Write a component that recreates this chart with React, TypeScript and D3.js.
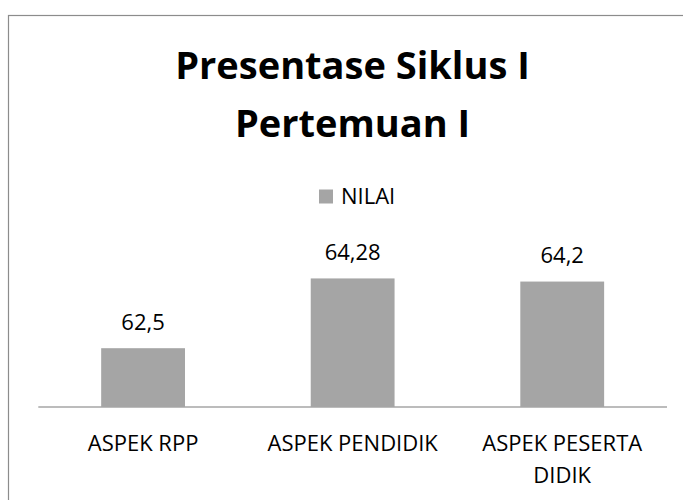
import React, { useEffect, useRef } from "react";
import * as d3 from "d3";

const categories = ["ASPEK RPP", "ASPEK PENDIDIK", "ASPEK PESERTA DIDIK"];
const values = [62.5, 64.28, 64.2];
const valueLabels = ["62,5", "64,28", "64,2"];
const seriesName = "NILAI";
const titleLines = ["Presentase Siklus I", "Pertemuan I"];
const yDomain = [61, 64.5];

const W = 683;
const H = 500;
const FONT = "'Open Sans', 'Noto Sans', sans-serif";

export default function App() {
  const ref = useRef<SVGSVGElement>(null);

  const plotLeft = 38.3;
  const plotRight = 667;
  const plotBottom = 407;
  const x = d3.scaleBand<string>().domain(categories).range([plotLeft, plotRight]).paddingInner(0.6).paddingOuter(0.3);
  const y = d3.scaleLinear().domain(yDomain).range([plotBottom, plotBottom - 3.5 * 39.2]);

  useEffect(() => {
    if (!ref.current) return;
    const svg = d3.select(ref.current);
    const g = svg.select<SVGGElement>("g.xlabels");
    g.selectAll("*").remove();
    const maxW = x.step() * 0.95;
    categories.forEach((c) => {
      const cx = (x(c) as number) + x.bandwidth() / 2;
      const text = g
        .append("text")
        .attr("x", cx)
        .attr("y", 450.5)
        .attr("text-anchor", "middle")
        .attr("font-family", FONT)
        .attr("font-size", 22)
        .attr("fill", "#000");
      const words = c.split(" ");
      let line: string[] = [];
      let lineNo = 0;
      let tspan = text.append("tspan").attr("x", cx).attr("dy", 0);
      words.forEach((w) => {
        line.push(w);
        tspan.text(line.join(" "));
        if ((tspan.node() as SVGTSpanElement).getComputedTextLength() > maxW && line.length > 1) {
          line.pop();
          tspan.text(line.join(" "));
          line = [w];
          lineNo++;
          tspan = text.append("tspan").attr("x", cx).attr("dy", 32).text(w);
        }
      });
    });
  }, []);

  return (
    <svg
      ref={ref}
      width={W}
      height={H}
      style={{ position: "absolute", left: 0, top: 0, background: "#fff" }}
    >
      <rect x={8.5} y={15.5} width={720} height={620} fill="#fff" stroke="#8c8c8c" strokeWidth={1.2} />
      {titleLines.map((t, i) => (
        <text
          key={i}
          x={352.5}
          y={79 + i * 58}
          textAnchor="middle"
          fontFamily={FONT}
          fontWeight="bold"
          fontSize={38}
          fill="#000"
        >
          {t}
        </text>
      ))}
      <rect x={319} y={189.5} width={14} height={14} fill="#a5a5a5" />
      <text x={341} y={204} fontFamily={FONT} fontSize={22} fill="#000">
        {seriesName}
      </text>
      {categories.map((c, i) => (
        <g key={c}>
          <rect
            x={x(c)}
            y={y(values[i])}
            width={x.bandwidth()}
            height={plotBottom - y(values[i])}
            fill="#a5a5a5"
          />
          <text
            x={(x(c) as number) + x.bandwidth() / 2}
            y={y(values[i]) - 18.5}
            textAnchor="middle"
            fontFamily={FONT}
            fontSize={22}
            fill="#000"
          >
            {valueLabels[i]}
          </text>
        </g>
      ))}
      <line x1={plotLeft} x2={plotRight} y1={plotBottom} y2={plotBottom} stroke="#a6a6a6" strokeWidth={1.5} />
      <g className="xlabels" />
    </svg>
  );
}
